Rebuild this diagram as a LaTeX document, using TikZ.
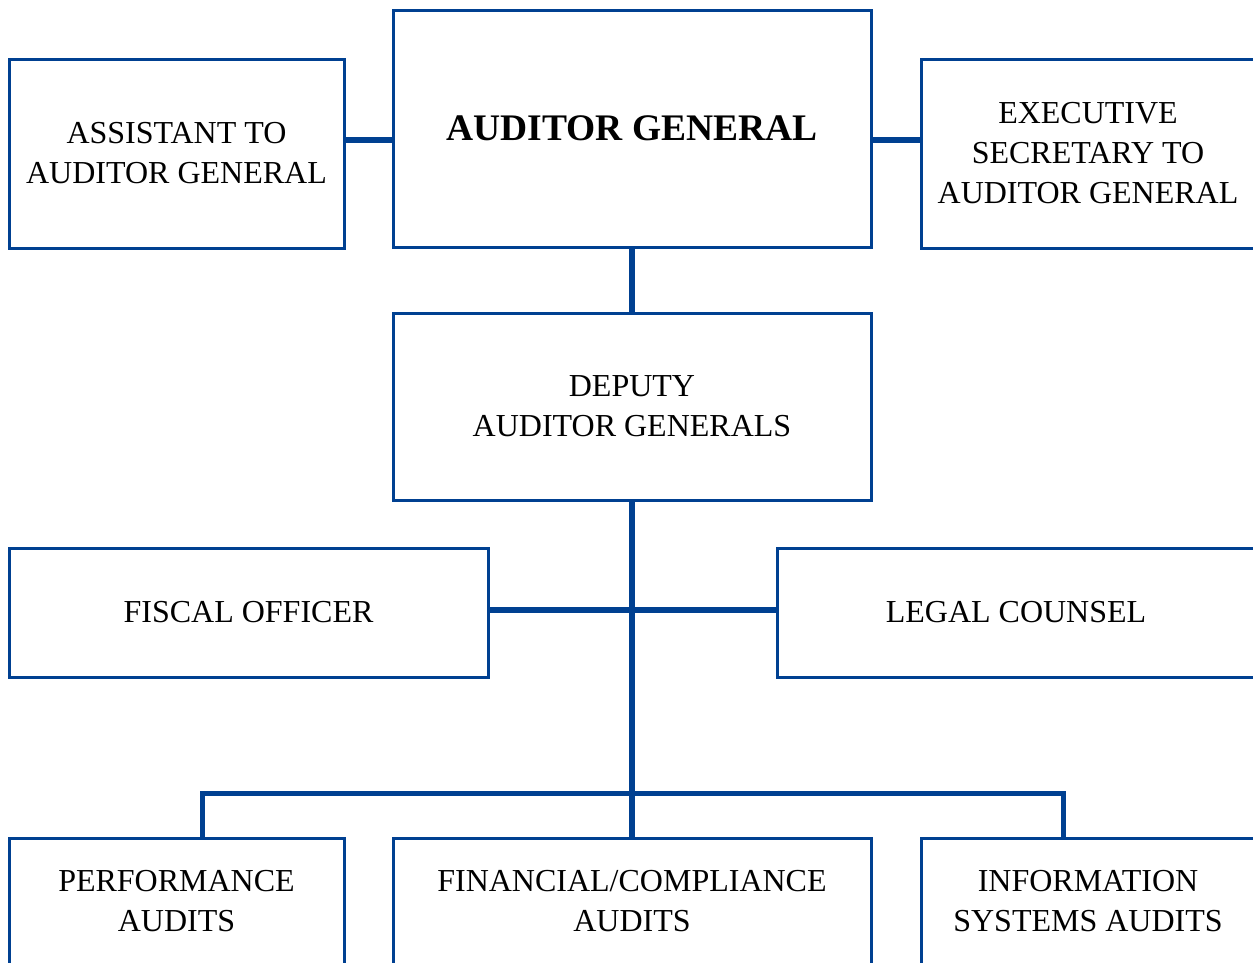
\documentclass[tikz,border=0pt]{standalone}
\usepackage{fontspec}
\setmainfont{Liberation Serif}
\definecolor{orgblue}{RGB}{0,64,145}
\tikzset{
  orgbox/.style={draw=orgblue, line width=3pt, fill=white, inner sep=0pt, align=center,
    font=\fontsize{32}{40}\selectfont, text=black},
  link/.style={draw=orgblue, line width=5.5pt},
}
\begin{document}
\begin{tikzpicture}[x=1pt,y=-1pt]
\clip (0,0) rectangle (1253,962);
\fill[white] (0,0) rectangle (1253,962);
\coordinate (topy) at (0,140);
\coordinate (midy) at (0,610);
\coordinate (bus) at (632,793);
\coordinate (busl) at (202,793);
\coordinate (busr) at (1063,793);
% boxes
\node[orgbox, minimum width=335pt, minimum height=189pt] (asst) at (176.5,153.5) {ASSISTANT TO\\AUDITOR GENERAL};
\node[orgbox, minimum width=478pt, minimum height=237pt, font=\fontsize{37.5}{44}\selectfont\bfseries] (ag) at (632,128.5) {AUDITOR GENERAL};
\node[orgbox, minimum width=334pt, minimum height=189pt] (exec) at (1088,153.5) {EXECUTIVE\\SECRETARY TO\\AUDITOR GENERAL};
\node[orgbox, minimum width=478pt, minimum height=187pt] (dep) at (632,406.5) {DEPUTY\\AUDITOR GENERALS};
\node[orgbox, minimum width=479pt, minimum height=129pt] (fisc) at (248.5,612.5) {FISCAL OFFICER};
\node[orgbox, minimum width=478pt, minimum height=129pt] (legal) at (1016,612.5) {LEGAL COUNSEL};
\node[orgbox, minimum width=335pt, minimum height=126pt] (perf) at (176.5,901) {PERFORMANCE\\AUDITS};
\node[orgbox, minimum width=478pt, minimum height=126pt] (fin) at (632,901) {FINANCIAL/COMPLIANCE\\AUDITS};
\node[orgbox, minimum width=334pt, minimum height=126pt] (info) at (1088,901) {INFORMATION\\SYSTEMS AUDITS};
% links
\draw[link] (asst.east |- topy) -- (ag.west |- topy);
\draw[link] (ag.east |- topy) -- (exec.west |- topy);
\draw[link] (ag.south) -- (dep.north);
\draw[link] (dep.south) -- (fin.north);
\draw[link] (fisc.east |- midy) -- (legal.west |- midy);
\draw[link, line width=5pt] (busl |- perf.north) -- (busl) -- (busr) -- (busr |- info.north);
\end{tikzpicture}
\end{document}
